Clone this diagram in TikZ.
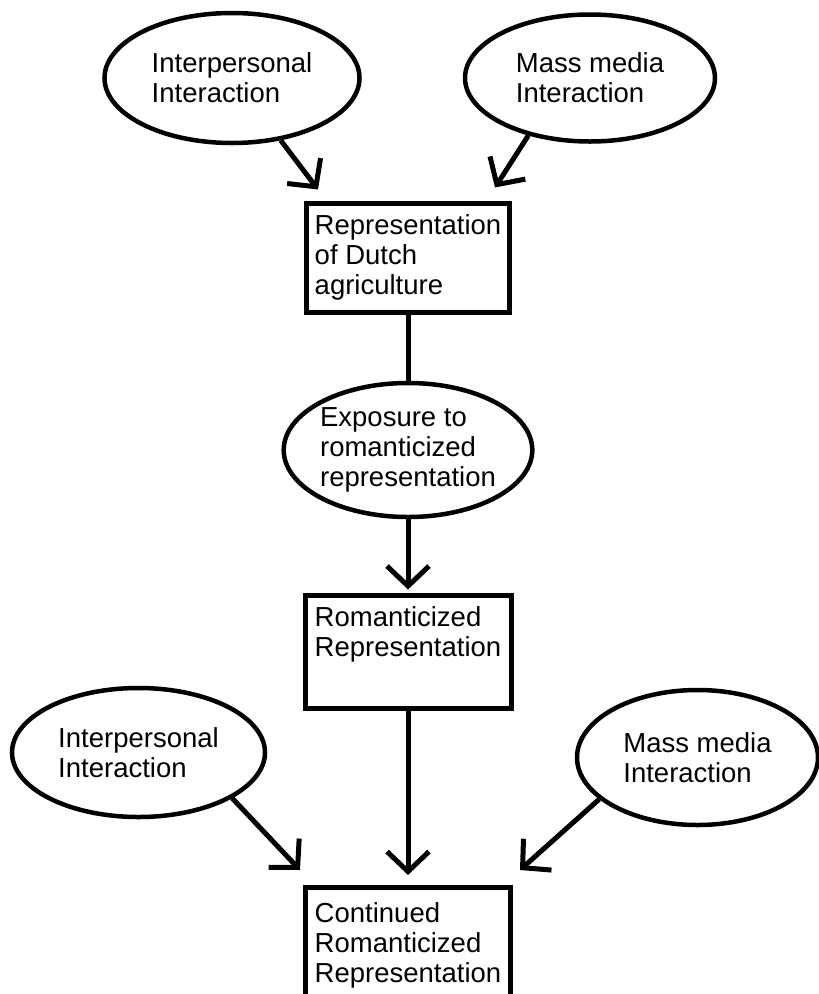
\documentclass[tikz,border=0pt]{standalone}
\usepackage{fontspec}
\setmainfont{Liberation Sans}
\usetikzlibrary{shapes.geometric,arrows.meta}

\begin{document}
\begin{tikzpicture}[x=1pt,y=-1pt,
    bubble/.style={ellipse,draw=black,line width=4.5pt,align=left,inner sep=0pt},
    panel/.style={rectangle,draw=black,line width=5pt,align=left,inner sep=0pt},
    link/.style={line width=5pt},
    >={Straight Barb[length=20pt,width=42pt]},
    font=\fontsize{27.5}{30}\selectfont]

      \useasboundingbox (0,0) rectangle (819,994);
      \clip (0,0) rectangle (819,994);

      % top sources
      \node[bubble,minimum width=255pt,minimum height=130pt] (ipA) at (232,78){Interpersonal\\Interaction};
      \node[bubble,minimum width=250pt,minimum height=127pt] (mmA) at (590,78){Mass media\\Interaction};

      % middle column
      \node[panel,minimum width=203pt,minimum height=109pt] (rep) at (408,257.5){Representation\\of Dutch\\agriculture};
      \node[bubble,minimum width=245pt,minimum height=134pt] (expo) at (408,450){Exposure to\\romanticized\\representation};
      \node[panel,minimum width=206pt,minimum height=113pt] (rom) at (408,651.5){Romanticized\\Representation\\\strut};
      \node[panel,anchor=north,minimum width=205pt,minimum height=150pt] (cont) at (408,885){Continued\\Romanticized\\Representation\\\strut};

      % bottom sources
      \node[bubble,minimum width=253pt,minimum height=129pt] (ipB) at (138.5,752.5){Interpersonal\\Interaction};
      \node[bubble,minimum width=241pt,minimum height=135pt] (mmB) at (697.5,757.5){Mass media\\Interaction};

      \draw[link,->] (ipA.-52) -- ([shift={(14,-11)}]rep.north west);
      \draw[link,->] (mmA.-137) -- ([shift={(-17,-13)}]rep.north east);
      \draw[link] (rep) -- (expo);
      \draw[link,->,shorten >=3pt] (expo) -- (rom);
      \draw[link,->,shorten >=10pt] (rom) -- (cont);
      \draw[link,->] (ipB.-26) -- ([shift={(-3,-15)}]cont.north west);
      \draw[link,->] (mmB.-157) -- ([shift={(7,-15)}]cont.north east);

    \end{tikzpicture}
\end{document}
